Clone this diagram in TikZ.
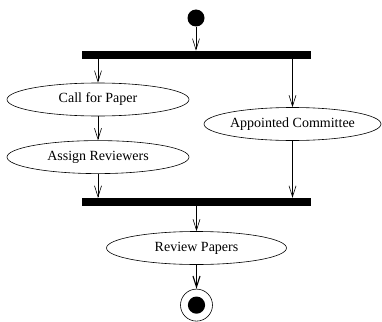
\documentclass[tikz,border=0pt]{standalone}
\usepackage{fontspec}
\setmainfont{Liberation Serif}
\usetikzlibrary{arrows.meta, positioning, shapes.geometric}
\tikzstyle{activity}=[ellipse, draw=black, line width=0.6pt, inner sep=0pt,
   minimum height=33pt, font=\rmfamily\fontsize{14}{16}\selectfont]
\tikzstyle{sync_bar}=[rectangle, fill=black, inner sep=0, minimum width=229pt, minimum height=8pt]
\tikzstyle{start_state}=[circle, fill=black, inner sep=0, minimum size=17pt]
\tikzstyle{end_state}=[circle, draw=black, line width=0.6pt, inner sep=0, minimum size=32pt,
   path picture={\fill (path picture bounding box.center) circle (8.6pt);}]
\tikzstyle{flow_arrow}=[line width=0.6pt, -{Straight Barb[length=11pt, width=7pt]}]

\begin{document}
\begin{tikzpicture}[x=1pt, y=1pt]
\useasboundingbox (0,0) rectangle (382,-321);

% initial state and fork
\node [start_state] (start)  at (196,-18)              {};
\node [sync_bar]    (fork)   [below=24pt of start]     {};

% left branch
\node [activity, minimum width=182pt] (call_paper) at (98,-99.5)          {Call for Paper};
\node [activity, minimum width=182pt] (assign)     [below=24pt of call_paper] {Assign Reviewers};

% right branch
\node [activity, minimum width=177pt] (committee)  at (292.5,-124)        {Appointed Committee};

% join, review and final state
\node [sync_bar]    (join)   at (196.5,-202)           {};
\node [activity, minimum width=180pt] (review) [below=25pt of join] {Review Papers};
\node [end_state]   (finish) [below=24pt of review]    {};

% control flow
\draw[flow_arrow] (start) to (fork);
\draw[flow_arrow] (fork.south -| call_paper) to (call_paper);
\draw[flow_arrow] (call_paper) to (assign);
\draw[flow_arrow] (fork.south -| committee) to (committee);
\draw[flow_arrow] (assign) to (assign |- join.north);
\draw[flow_arrow] (committee) to (committee |- join.north);
\draw[flow_arrow] (join) to (review);
\draw[flow_arrow, line width=1.1pt] (review) to (finish);

\end{tikzpicture}
\end{document}
